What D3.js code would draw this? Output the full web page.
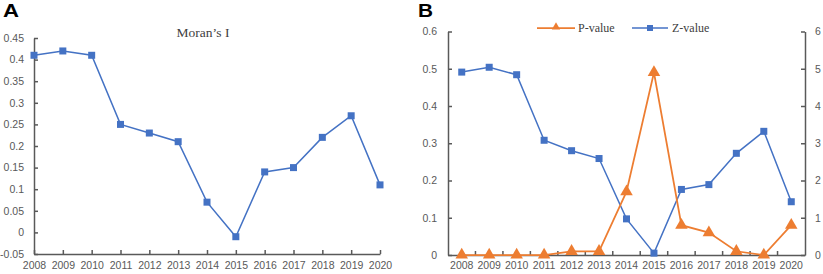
<!DOCTYPE html>
<html lang="en">
<meta charset="utf-8">
<head>
    <script src="https://d3js.org/d3.v7.min.js"></script>
</head>
<body style="margin:0;background:#fff">
<style>
    .tick text { font-family: "Liberation Sans", Arial, sans-serif; font-size: 10.5px; fill: #595959; }
    .domain, .tick line { stroke: #595959; stroke-width: 1.5px; }
</style>
<svg width="823" height="274"></svg>
</body>
<script>
// data
var years = ["2008","2009","2010","2011","2012","2013","2014","2015","2016","2017","2018","2019","2020"];
var moranI = [0.41, 0.42, 0.41, 0.25, 0.23, 0.21, 0.07, -0.01, 0.14, 0.15, 0.22, 0.27, 0.11];
var pValue = [0, 0, 0, 0, 0.01, 0.01, 0.17, 0.49, 0.08, 0.06, 0.01, 0, 0.08];
var zValue = [4.91, 5.04, 4.84, 3.08, 2.80, 2.59, 0.97, 0.05, 1.76, 1.89, 2.73, 3.32, 1.43];
var ticksA = [-0.05, 0, 0.05, 0.1, 0.15, 0.2, 0.25, 0.3, 0.35, 0.4, 0.45];
var ticksBLeft = [0, 0.1, 0.2, 0.3, 0.4, 0.5, 0.6];
var ticksBRight = [0, 1, 2, 3, 4, 5, 6];

var blue = "#4472C4", orange = "#ED7D31";
var svg = d3.select("svg");
var fmt = function(d) { return String(+d.toFixed(2)); };

// panel labels
svg.append("text").attr("x", 3).attr("y", 17)
    .attr("font-family", "Liberation Sans, Arial, sans-serif").attr("font-weight", "bold")
    .attr("font-size", "18px").attr("textLength", 16).attr("lengthAdjust", "spacingAndGlyphs").text("A");
svg.append("text").attr("x", 418).attr("y", 17)
    .attr("font-family", "Liberation Sans, Arial, sans-serif").attr("font-weight", "bold")
    .attr("font-size", "18px").attr("textLength", 15).attr("lengthAdjust", "spacingAndGlyphs").text("B");

// ---------- panel A ----------
var xA = d3.scalePoint().domain(years).range([34, 380]);
var yA = d3.scaleLinear().domain([-0.05, 0.45]).range([254, 38]);

svg.append("g")
    .attr("transform", "translate(0," + yA(-0.05) + ")")
    .call(d3.axisBottom(xA).tickSizeInner(-4).tickSizeOuter(0).tickPadding(8));
svg.append("g")
    .attr("transform", "translate(" + xA(years[0]) + ",0)")
    .call(d3.axisLeft(yA).tickValues(ticksA).tickFormat(fmt).tickSizeInner(-4).tickSizeOuter(0).tickPadding(10));

svg.append("text")
    .attr("x", 203).attr("y", 37).attr("text-anchor", "middle")
    .attr("font-family", "Liberation Serif, Times New Roman, serif")
    .attr("font-size", "13.5px").attr("fill", "#404040")
    .text("Moran\u2019s I");

svg.append("path")
    .datum(moranI)
    .attr("fill", "none").attr("stroke", blue).attr("stroke-width", 1.5)
    .attr("d", d3.line().x(function(d, i) { return xA(years[i]); }).y(function(d) { return yA(d); }));
svg.selectAll(".sqA").data(moranI).enter().append("rect")
    .attr("x", function(d, i) { return xA(years[i]) - 3.5; })
    .attr("y", function(d) { return yA(d) - 3.5; })
    .attr("width", 7).attr("height", 7).attr("fill", blue);

// ---------- panel B ----------
var xB = d3.scaleBand().domain(years).range([448, 805]).padding(0);
var yL = d3.scaleLinear().domain([0, 0.6]).range([255, 31.5]);
var yR = d3.scaleLinear().domain([0, 6]).range([255, 31.5]);
var cx = function(i) { return xB(years[i]) + xB.bandwidth() / 2; };

var gx = svg.append("g")
    .attr("transform", "translate(0," + yL(0) + ")")
    .call(d3.axisBottom(xB).tickSize(0).tickPadding(7));
// ticks between categories
gx.selectAll(".bt").data(years.slice(1)).enter().append("line")
    .attr("x1", function(d) { return xB(d); }).attr("x2", function(d) { return xB(d); })
    .attr("y1", 0).attr("y2", -4)
    .attr("stroke", "#595959").attr("stroke-width", 1.5);

svg.append("g")
    .attr("transform", "translate(448,0)")
    .call(d3.axisLeft(yL).tickValues(ticksBLeft).tickFormat(fmt).tickSizeInner(-4).tickSizeOuter(0).tickPadding(11));
svg.append("g")
    .attr("transform", "translate(805,0)")
    .call(d3.axisRight(yR).tickValues(ticksBRight).tickFormat(fmt).tickSizeInner(-4).tickSizeOuter(0).tickPadding(10));

var tri = d3.symbol().type(d3.symbolTriangle).size(68);

// Z-value (right axis)
svg.append("path")
    .datum(zValue)
    .attr("fill", "none").attr("stroke", blue).attr("stroke-width", 1.5)
    .attr("d", d3.line().x(function(d, i) { return cx(i); }).y(function(d) { return yR(d); }));
svg.selectAll(".sqB").data(zValue).enter().append("rect")
    .attr("x", function(d, i) { return cx(i) - 3.5; })
    .attr("y", function(d) { return yR(d) - 3.5; })
    .attr("width", 7).attr("height", 7).attr("fill", blue);

// P-value (left axis)
svg.append("path")
    .datum(pValue)
    .attr("fill", "none").attr("stroke", orange).attr("stroke-width", 1.75)
    .attr("d", d3.line().x(function(d, i) { return cx(i); }).y(function(d) { return yL(d); }));
svg.selectAll(".triB").data(pValue).enter().append("path")
    .attr("d", tri)
    .attr("transform", function(d, i) { return "translate(" + cx(i) + "," + yL(d) + ")"; })
    .attr("fill", orange);

// legend
var lg = svg.append("g").attr("font-family", "Liberation Serif, Times New Roman, serif")
    .attr("font-size", "12px").attr("fill", "#404040");
lg.append("line").attr("x1", 537).attr("x2", 575).attr("y1", 28).attr("y2", 28)
    .attr("stroke", orange).attr("stroke-width", 1.75);
lg.append("path").attr("d", d3.symbol().type(d3.symbolTriangle).size(30))
    .attr("transform", "translate(556,27)").attr("fill", orange);
lg.append("text").attr("x", 578).attr("y", 32).text("P-value");
lg.append("line").attr("x1", 632).attr("x2", 668).attr("y1", 28).attr("y2", 28)
    .attr("stroke", blue).attr("stroke-width", 1.5);
lg.append("rect").attr("x", 647).attr("y", 25).attr("width", 6).attr("height", 6).attr("fill", blue);
lg.append("text").attr("x", 672).attr("y", 32).text("Z-value");
</script>
</html>
